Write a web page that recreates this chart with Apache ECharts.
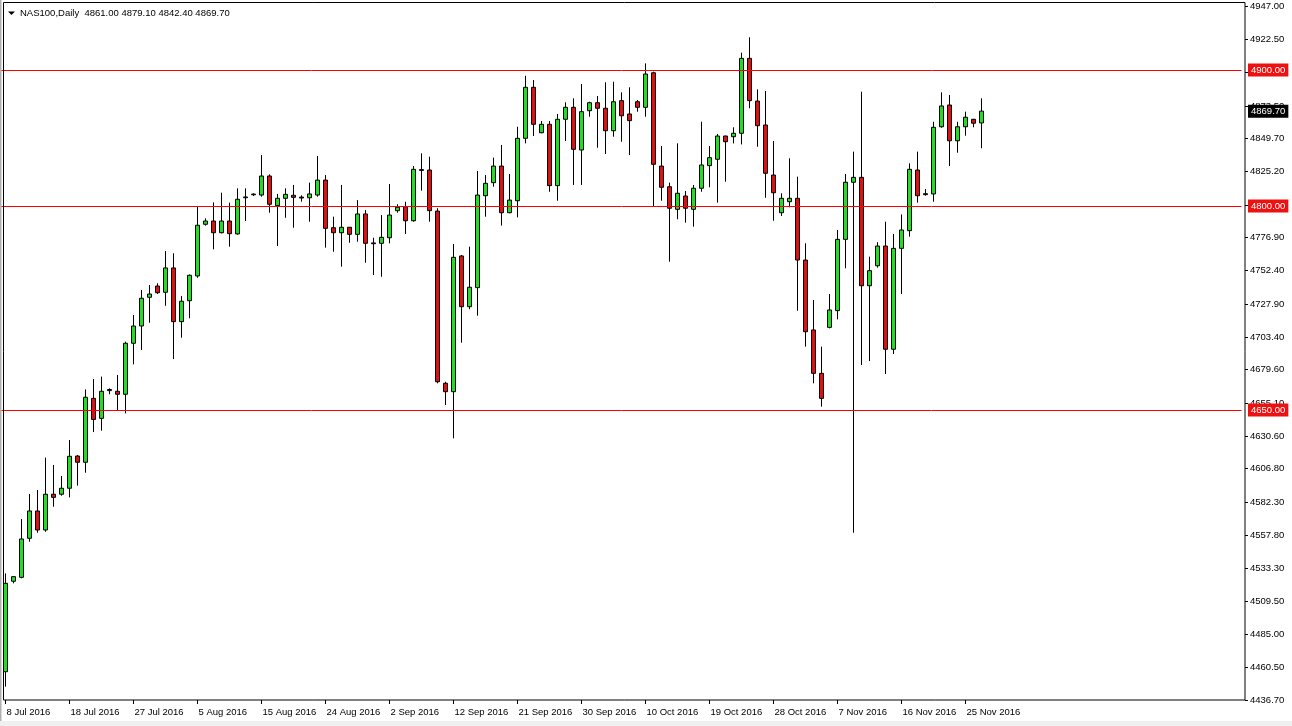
<!DOCTYPE html>
<html><head><meta charset="utf-8">
<script src="https://cdn.jsdelivr.net/npm/echarts@6/dist/echarts.min.js"></script>
<style>html,body{margin:0;padding:0;background:#fff}#c{width:1292px;height:726px}</style>
</head><body><div id="c"></div>
<script>
// ---- data ----
const dates = [
 '8 Jul 2016','10 Jul 2016','11 Jul 2016','12 Jul 2016','13 Jul 2016','14 Jul 2016','15 Jul 2016','17 Jul 2016','18 Jul 2016','19 Jul 2016',
 '20 Jul 2016','21 Jul 2016','22 Jul 2016','24 Jul 2016','25 Jul 2016','26 Jul 2016','27 Jul 2016','28 Jul 2016','29 Jul 2016','31 Jul 2016',
 '1 Aug 2016','2 Aug 2016','3 Aug 2016','4 Aug 2016','5 Aug 2016','7 Aug 2016','8 Aug 2016','9 Aug 2016','10 Aug 2016','11 Aug 2016',
 '12 Aug 2016','14 Aug 2016','15 Aug 2016','16 Aug 2016','17 Aug 2016','18 Aug 2016','19 Aug 2016','21 Aug 2016','22 Aug 2016','23 Aug 2016',
 '24 Aug 2016','25 Aug 2016','26 Aug 2016','28 Aug 2016','29 Aug 2016','30 Aug 2016','31 Aug 2016','1 Sep 2016','2 Sep 2016','4 Sep 2016',
 '5 Sep 2016','6 Sep 2016','7 Sep 2016','8 Sep 2016','9 Sep 2016','11 Sep 2016','12 Sep 2016','13 Sep 2016','14 Sep 2016','15 Sep 2016',
 '16 Sep 2016','18 Sep 2016','19 Sep 2016','20 Sep 2016','21 Sep 2016','22 Sep 2016','23 Sep 2016','25 Sep 2016','26 Sep 2016','27 Sep 2016',
 '28 Sep 2016','29 Sep 2016','30 Sep 2016','2 Oct 2016','3 Oct 2016','4 Oct 2016','5 Oct 2016','6 Oct 2016','7 Oct 2016','9 Oct 2016',
 '10 Oct 2016','11 Oct 2016','12 Oct 2016','13 Oct 2016','14 Oct 2016','16 Oct 2016','17 Oct 2016','18 Oct 2016','19 Oct 2016','20 Oct 2016',
 '21 Oct 2016','23 Oct 2016','24 Oct 2016','25 Oct 2016','26 Oct 2016','27 Oct 2016','28 Oct 2016','30 Oct 2016','31 Oct 2016','1 Nov 2016',
 '2 Nov 2016','3 Nov 2016','4 Nov 2016','6 Nov 2016','7 Nov 2016','8 Nov 2016','9 Nov 2016','10 Nov 2016','11 Nov 2016','13 Nov 2016',
 '14 Nov 2016','15 Nov 2016','16 Nov 2016','17 Nov 2016','18 Nov 2016','20 Nov 2016','21 Nov 2016','22 Nov 2016','23 Nov 2016','24 Nov 2016',
 '25 Nov 2016','27 Nov 2016','28 Nov 2016'
];
const opens = [
 4457.5,4524.0,4526.9,4555.6,4575.7,4561.7,4588.0,4588.0,4592.4,4616.1,
 4611.5,4658.5,4643.8,4664.2,4663.7,4661.5,4699.0,4711.7,4732.8,4741.1,
 4736.5,4754.4,4714.9,4730.3,4748.5,4786.5,4788.9,4780.3,4788.9,4779.4,
 4806.0,4808.2,4808.0,4822.0,4800.2,4805.6,4807.8,4806.5,4806.0,4808.0,
 4819.0,4784.0,4780.3,4784.3,4779.1,4794.1,4772.8,4772.5,4776.6,4796.5,
 4799.4,4789.1,4826.1,4826.4,4796.2,4669.6,4663.4,4763.2,4725.9,4739.9,
 4807.5,4817.1,4829.3,4795.0,4803.8,4849.7,4887.2,4853.8,4860.0,4814.9,
 4863.7,4872.5,4841.1,4870.0,4875.9,4871.8,4855.3,4877.4,4867.6,4876.6,
 4872.5,4897.9,4829.3,4814.1,4797.5,4807.3,4797.5,4813.0,4829.6,4834.3,
 4851.4,4850.9,4853.4,4908.5,4877.1,4859.5,4822.7,4795.0,4803.1,4805.6,
 4760.2,4708.8,4676.9,4710.7,4723.0,4775.4,4817.4,4821.0,4741.3,4756.0,
 4770.5,4694.6,4768.8,4781.8,4826.4,4808.3,4808.8,4858.2,4874.2,4847.9,
 4858.2,4863.7,4861.0
];
const closes = [
 4522.5,4527.4,4555.1,4575.7,4561.7,4588.0,4585.7,4592.4,4615.9,4611.5,
 4659.3,4643.0,4663.7,4665.0,4661.5,4699.0,4711.7,4732.1,4735.2,4736.2,
 4754.4,4714.9,4729.9,4749.0,4785.8,4788.9,4780.3,4788.9,4779.6,4804.9,
 4806.6,4808.7,4822.0,4801.2,4805.6,4808.5,4806.3,4805.8,4808.8,4819.0,
 4783.5,4780.3,4784.3,4779.1,4794.1,4772.5,4772.2,4776.9,4793.3,4799.0,
 4789.1,4826.9,4826.7,4796.5,4670.7,4663.4,4762.2,4725.9,4740.2,4808.0,
 4816.6,4829.3,4795.0,4804.3,4849.7,4887.2,4860.0,4860.0,4814.9,4863.7,
 4872.5,4841.6,4869.3,4875.9,4871.8,4855.3,4876.6,4866.3,4862.7,4872.5,
 4897.0,4830.6,4813.7,4798.3,4809.3,4798.3,4813.0,4830.1,4835.5,4851.4,
 4847.2,4853.4,4908.5,4877.4,4859.0,4824.0,4809.7,4805.6,4805.6,4760.2,
 4707.5,4676.9,4658.5,4723.5,4775.4,4817.4,4821.0,4741.3,4752.4,4770.5,
 4694.6,4768.8,4782.3,4826.9,4807.5,4809.0,4857.8,4873.5,4847.9,4858.2,
 4865.2,4860.8,4869.7
];
const lows = [
 4446.5,4522.5,4526.2,4553.1,4559.7,4560.4,4578.8,4586.9,4585.7,4594.3,
 4603.8,4633.7,4634.7,4661.5,4650.0,4647.5,4683.5,4694.1,4714.1,4735.2,
 4726.6,4687.4,4703.1,4717.4,4747.2,4785.5,4768.1,4779.8,4770.0,4778.8,
 4788.9,4807.3,4806.8,4795.0,4770.5,4791.3,4784.0,4803.1,4788.4,4806.8,
 4769.3,4766.3,4755.3,4772.9,4773.7,4758.2,4749.2,4747.9,4772.5,4795.0,
 4779.4,4788.4,4811.2,4788.4,4669.6,4653.6,4629.1,4699.4,4724.0,4719.3,
 4792.1,4814.1,4785.5,4794.6,4791.6,4846.0,4851.4,4853.4,4810.4,4803.8,
 4847.7,4815.4,4815.4,4865.6,4842.8,4838.2,4850.9,4847.2,4837.4,4869.3,
 4865.6,4799.9,4803.8,4759.0,4790.2,4787.7,4784.7,4810.4,4813.7,4802.4,
 4817.8,4846.0,4845.2,4871.8,4843.5,4806.0,4789.1,4792.6,4799.0,4722.9,
 4696.5,4669.6,4652.4,4710.0,4716.6,4754.1,4559.7,4683.0,4685.9,4754.6,
 4676.4,4691.1,4735.2,4777.4,4802.4,4807.5,4803.1,4857.5,4829.3,4839.1,
 4851.6,4857.8,4842.4
];
const highs = [
 4529.8,4527.9,4569.8,4588.2,4591.1,4614.9,4609.5,4601.4,4627.9,4616.8,
 4665.1,4672.7,4674.5,4665.9,4675.7,4700.2,4719.8,4738.2,4741.8,4743.1,
 4766.8,4765.2,4733.8,4749.6,4799.4,4790.9,4802.6,4809.7,4802.4,4812.9,
 4812.9,4809.3,4837.4,4823.2,4808.8,4812.9,4815.4,4807.8,4817.1,4836.7,
 4822.7,4792.1,4815.4,4784.5,4804.3,4797.0,4776.6,4793.3,4816.1,4801.2,
 4803.1,4829.3,4838.7,4836.2,4798.3,4670.7,4772.0,4763.9,4770.0,4825.7,
 4822.7,4835.5,4844.8,4823.5,4858.2,4895.7,4892.6,4862.4,4862.4,4867.6,
 4876.2,4879.1,4889.6,4876.6,4880.8,4890.9,4891.3,4883.5,4887.2,4877.9,
 4904.8,4898.7,4844.0,4817.1,4846.0,4811.0,4815.4,4861.9,4844.0,4852.9,
 4851.6,4857.8,4912.7,4924.0,4885.7,4884.5,4847.7,4809.3,4835.0,4821.5,
 4772.5,4730.8,4696.5,4735.2,4782.3,4823.5,4839.9,4884.0,4762.7,4773.3,
 4788.4,4779.4,4793.8,4831.3,4839.9,4812.4,4861.9,4883.5,4881.6,4861.9,
 4869.3,4864.0,4879.1
];
const yTicks = [4947.00,4922.50,4898.10,4873.50,4849.70,4825.20,4800.80,4776.90,4752.40,4727.90,4703.40,
 4679.60,4655.10,4630.60,4606.80,4582.30,4557.80,4533.30,4509.50,4485.00,4460.50,4436.70];
const levels = [4900, 4800, 4650];
const lastPrice = 4869.70;
const titleText = 'NAS100,Daily  4861.00 4879.10 4842.40 4869.70';
const yMin = 4436.7, yMax = 4949.94;
const TOTAL_SLOTS = 155; // chart shift: empty slots to the right

// ---- build ----
const cats = dates.slice();
for (let i = dates.length; i < TOTAL_SLOTS; i++) cats.push('pad' + i);
const candles = opens.map((o, i) => [o, closes[i], lows[i], highs[i]]);
const showIdx = (i) => i % 8 === 0 && i < dates.length;
const FONT = 'Liberation Sans';

const chart = echarts.init(document.getElementById('c'), null, {renderer: 'canvas'});
chart.setOption({
  animation: false,
  backgroundColor: '#ffffff',
  title: {
    text: titleText, left: 20, top: 8, padding: 0,
    textStyle: {fontSize: 9.5, fontWeight: 'normal', fontFamily: FONT, color: '#000'}
  },
  grid: {left: 1.5, right: 50.5, top: 2, bottom: 26, containLabel: false},
  xAxis: {
    type: 'category', data: cats, boundaryGap: true,
    axisLine: {show: false},
    axisTick: {show: true, alignWithLabel: true, length: 4, interval: showIdx, lineStyle: {color: '#000'}},
    axisLabel: {interval: showIdx, align: 'left', color: '#000', fontSize: 9.5, fontFamily: FONT, margin: 7, padding: [0, 0, 0, 1]},
    splitLine: {show: false}
  },
  yAxis: {
    type: 'value', position: 'right', min: yMin, max: yMax, offset: 3.5,
    splitLine: {show: false},
    axisLine: {show: false},
    axisTick: {show: true, length: 3, customValues: yTicks, lineStyle: {color: '#000'}},
    axisLabel: {customValues: yTicks, formatter: v => v.toFixed(2), color: '#000', fontSize: 9.5, fontFamily: FONT, margin: 5}
  },
  graphic: [
    {type: 'rect', shape: {x: 3.5, y: 2.5, width: 1241.5, height: 697.5}, style: {fill: 'none', stroke: '#000', lineWidth: 1}, z: 100, silent: true},
    {type: 'rect', shape: {x: 0, y: 0, width: 1.5, height: 726}, style: {fill: '#b0b0b0'}, silent: true},
    {type: 'rect', shape: {x: 0, y: 721, width: 1292, height: 5}, style: {fill: '#f0f0f0'}, silent: true},
    {type: 'polygon', shape: {points: [[8, 11.5], [15, 11.5], [11.5, 15]]}, style: {fill: '#000'}, silent: true}
  ],
  series: [{
    type: 'candlestick',
    data: candles,
    barWidth: 4,
    itemStyle: {color: '#22dd22', color0: '#e01010', borderColor: '#000', borderColor0: '#000', borderWidth: 1},
    markLine: {
      silent: true, symbol: ['none', 'none'], animation: false,
      lineStyle: {color: '#ff0000', width: 1, type: 'solid'},
      label: {position: 'end', distance: 6.5, formatter: p => Number(p.value).toFixed(2),
        backgroundColor: '#ee1111', color: '#fff', fontSize: 9.5, fontFamily: FONT, padding: [2, 3, 1, 3]},
      data: levels.map(v => ({yAxis: v})).concat([{
        yAxis: lastPrice, lineStyle: {color: 'rgba(0,0,0,0)'},
        label: {backgroundColor: '#000', color: '#fff'}
      }])
    }
  }]
});
</script></body></html>
